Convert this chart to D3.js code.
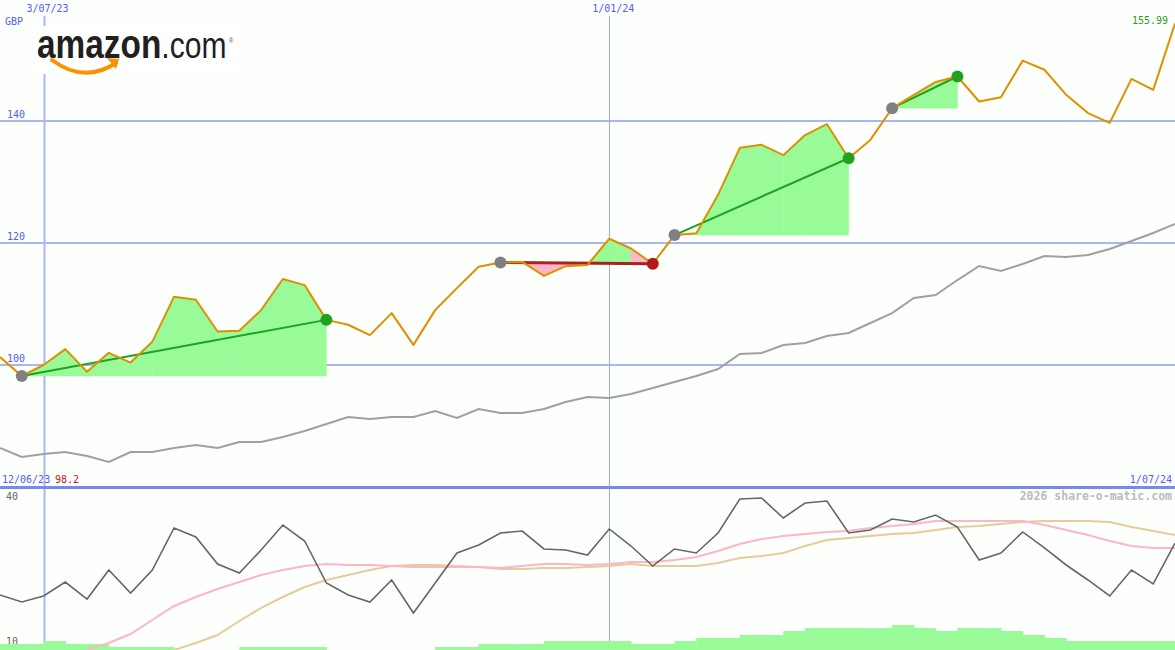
<!DOCTYPE html>
<html><head><meta charset="utf-8">
<script src="https://cdn.jsdelivr.net/npm/d3@7/dist/d3.min.js"></script>
<style>
html,body{margin:0;padding:0;background:#fdfffd;}
svg{display:block;}
text{font-family:"DejaVu Sans Mono",monospace;}
</style></head>
<body>
<svg id="c" width="1175" height="650"></svg>
<script>
// ---------- DATA ----------
const startDate = "2023-06-19";           // first weekly point
const weeks = 55;
const price = [101.3,98.2,100.0,102.6,98.9,102.0,100.4,103.8,111.2,110.7,
  105.5,105.6,109.0,114.1,113.1,107.4,106.6,104.9,108.5,103.3,
  109.0,112.6,116.1,116.8,116.9,114.6,116.2,116.4,120.7,119.1,
  116.6,121.3,121.6,127.9,135.6,136.1,134.4,137.7,139.5,133.9,
  136.9,142.1,144.3,146.4,147.3,143.2,143.9,149.9,148.4,144.3,
  141.3,139.7,146.9,145.1,155.99];
const longMA = [86.39,84.92,85.41,85.74,85.08,84.10,85.74,85.74,86.39,86.89,
  86.39,87.38,87.38,88.20,89.18,90.33,91.48,91.15,91.48,91.48,
  92.46,91.31,92.79,92.13,92.13,92.79,93.93,94.75,94.59,95.25,
  96.23,97.21,98.20,99.34,101.80,101.97,103.28,103.61,104.75,105.25,
  106.89,108.52,110.98,111.48,113.93,116.23,115.41,116.56,117.87,117.70,
  118.03,119.02,120.33,121.64,123.11];
const trends = [[1,15],[23,30],[31,39],[41,44]];
const osc = [20.31,19.0,20.13,22.75,19.56,25.0,20.69,25.0,32.88,31.19,
  26.13,24.44,28.75,33.44,30.44,22.56,20.31,19.0,23.13,16.94,
  22.56,28.19,29.69,31.94,32.31,28.94,28.75,27.81,32.69,29.5,
  25.75,28.94,28.19,31.94,38.31,38.5,34.75,37.56,37.94,31.94,
  32.5,34.56,34.0,35.31,33.06,26.88,28.19,32.13,29.13,25.94,
  23.13,20.13,25.0,22.38,30.06];
const oscFast = [null,null,null,null,10,11.31,13.0,15.63,18.25,19.94,
  21.44,22.75,24.06,25.0,25.75,26.13,25.94,25.94,25.75,25.56,
  25.56,25.56,25.56,25.38,25.75,26.13,26.13,25.94,26.13,26.5,
  26.5,26.88,27.44,28.56,29.88,30.81,31.38,31.75,32.13,32.31,
  32.88,33.25,33.63,34.19,34.19,34.19,34.19,34.19,33.44,32.5,
  31.56,30.44,29.5,29.13,29.13];
const oscSlow = [null,null,null,null,null,null,null,null,10,11.31,
  12.81,15.44,17.88,19.94,21.81,23.13,24.06,25.0,25.75,25.94,
  25.94,25.75,25.56,25.19,25.19,25.38,25.38,25.56,25.75,26.13,
  25.75,25.75,25.75,26.31,27.25,27.63,28.19,29.5,30.63,31.0,
  31.38,31.75,31.94,32.5,33.06,33.25,33.63,34.0,34.19,34.19,
  34.19,34.0,33.06,32.31,31.56];
const volume = [6,6,9,6,6,3,3,3,0,0,0,3,3,3,3,0,0,0,0,0,3,3,6,6,6,9,9,9,9,6,
  6,9,12,12,15,15,19,22,22,22,22,25,22,19,22,22,19,15,12,9,9,9,9,9,9];
const priceTicks = [100,120,140];
const dateLines = ["2023-07-03","2024-01-01"];
const dateLabels = ["3/07/23","1/01/24"];
const oscTicks = [40,10];

// ---------- SCALES ----------
const parse = d3.utcParse("%Y-%m-%d");
const d0 = parse(startDate);
const dates = d3.range(weeks).map(i => d3.utcDay.offset(d0, 7*i));
const x = d3.scaleUtc().domain([dates[0], dates[weeks-1]]).range([0, 1175]);
const y = d3.scaleLinear().domain([80, 159.84]).range([487, 0]);
const yo = d3.scaleLinear().domain([10, 40]).range([650, 490]);
const yv = d3.scaleLinear().domain([0, 50]).range([650, 600]);

const svg = d3.select("#c");
svg.append("rect").attr("width",1175).attr("height",650).attr("fill","#fdfffd");

const gridC = "#a9b6f6";
// horizontal price grid
svg.append("g").selectAll("line").data(priceTicks).join("line")
  .attr("x1",0).attr("x2",1175).attr("y1",d=>y(d)).attr("y2",d=>y(d))
  .attr("stroke",gridC).attr("stroke-width",2);
svg.append("g").selectAll("text").data(priceTicks).join("text")
  .attr("x",7).attr("y",d=>y(d)-3).text(d=>d)
  .attr("font-size",10).attr("fill","#5060f0");
// vertical date lines
svg.append("g").selectAll("line").data(dateLines).join("line")
  .attr("x1",d=>Math.round(x(parse(d)))+0.5).attr("x2",d=>Math.round(x(parse(d)))+0.5)
  .attr("y1",16).attr("y2",650)
  .attr("stroke",(d,i)=>i===0?gridC:"#9aa8f6").attr("stroke-width",(d,i)=>i===0?2:1);
svg.append("g").selectAll("text").data(dateLines).join("text")
  .attr("x",d=>x(parse(d))+4).attr("y",12).attr("text-anchor","middle")
  .text((d,i)=>dateLabels[i]).attr("font-size",10).attr("fill","#5060f0");
svg.append("text").attr("x",5).attr("y",25).text("GBP").attr("font-size",10).attr("fill","#5060f0");

// long moving average
svg.append("path").datum(longMA)
  .attr("d", d3.line().x((d,i)=>x(dates[i])).y(d=>y(d)))
  .attr("fill","none").attr("stroke","#a0a0a0").attr("stroke-width",2);

// trend fills
const fillG = svg.append("g");
trends.forEach(([s,e]) => {
  const base = price[s];
  for (let i=s;i<e;i++){
    const pts = [[x(dates[i]),y(price[i])],[x(dates[i+1]),y(price[i+1])],
                 [x(dates[i+1]),y(base)],[x(dates[i]),y(base)]];
    fillG.append("path").attr("d","M"+pts.map(p=>p.join(",")).join("L")+"Z")
      .attr("fill", price[i+1] >= base ? "#98fb98" : "#ffb6c8")
      .attr("stroke", price[i+1] >= base ? "#98fb98" : "#ffb6c8").attr("stroke-width",0.5);
  }
});
// trend lines
svg.append("g").selectAll("line").data(trends).join("line")
  .attr("x1",d=>x(dates[d[0]])).attr("y1",d=>y(price[d[0]]))
  .attr("x2",d=>x(dates[d[1]])).attr("y2",d=>y(price[d[1]]))
  .attr("stroke",d=>price[d[1]]>price[d[0]]?"#22a022":"#a82222")
  .attr("stroke-width",d=>price[d[1]]>price[d[0]]?2:3);

// price line
svg.append("path").datum(price)
  .attr("d", d3.line().x((d,i)=>x(dates[i])).y(d=>y(d)))
  .attr("fill","none").attr("stroke","#de9000").attr("stroke-width",2).attr("stroke-linejoin","round");

// dots
const dotG = svg.append("g");
trends.forEach(([s,e]) => {
  dotG.append("circle").attr("cx",x(dates[s])).attr("cy",y(price[s])).attr("r",6).attr("fill","#808080");
  dotG.append("circle").attr("cx",x(dates[e])).attr("cy",y(price[e])).attr("r",6)
    .attr("fill", price[e]>price[s] ? "#22a022" : "#b01c1c");
});

// last price label
svg.append("text").attr("x",1168).attr("y",24).attr("text-anchor","end")
  .text(price[weeks-1].toFixed(2)).attr("font-size",10).attr("fill","#22a022");

// ---------- LOGO ----------
const logo = svg.append("g");
logo.append("rect").attr("x",30).attr("y",26).attr("width",210).attr("height",48).attr("fill","#ffffff");
const lt = logo.append("text").attr("transform","translate(37,58) scale(0.835,1)")
  .style("font-family","'Liberation Sans',Arial,sans-serif").attr("fill","#221f1f");
lt.append("tspan").attr("font-weight","bold").attr("font-size",40).text("amazon");
lt.append("tspan").attr("font-size",36).text(".com");
lt.append("tspan").attr("font-size",7).attr("dy",-15).attr("dx",3).attr("fill","#555").text("®");
logo.append("path").attr("d","M52,60 Q84,84 116,63")
  .attr("fill","none").attr("stroke","#f79400").attr("stroke-width",4).attr("stroke-linecap","round");
logo.append("path").attr("d","M107,58 L119,59 L116,69 Z").attr("fill","#f79400");

// ---------- LOWER PANEL ----------
svg.append("line").attr("x1",0).attr("x2",1175).attr("y1",487.5).attr("y2",487.5)
  .attr("stroke","#7888ee").attr("stroke-width",3);
svg.append("text").attr("x",2).attr("y",483).text("12/06/23").attr("font-size",10).attr("fill","#5060f0");
svg.append("text").attr("x",55).attr("y",483).text(price[1].toFixed(1)).attr("font-size",10).attr("fill","#b01c1c");
svg.append("text").attr("x",1172).attr("y",483).attr("text-anchor","end")
  .text(d3.utcFormat("%-d/%m/%y")(dates[weeks-1])).attr("font-size",10).attr("fill","#5060f0");
svg.append("text").attr("x",1172).attr("y",500).attr("text-anchor","end")
  .text("2026 share-o-matic.com").attr("font-size",11.5).attr("font-weight","bold").attr("fill","#bbbbbb");
svg.append("g").selectAll("text").data(oscTicks).join("text")
  .attr("x",6).attr("y",(d,i)=>i===0?500:645).text(d=>d).attr("font-size",10).attr("fill","#666");

const clip = svg.append("clipPath").attr("id","lowclip");
clip.append("rect").attr("x",0).attr("y",489).attr("width",1175).attr("height",161);
const low = svg.append("g").attr("clip-path","url(#lowclip)");

// volume
const bw = x(dates[1]) - x(dates[0]);
low.append("g").selectAll("rect").data(volume).join("rect")
  .attr("x",(d,i)=>x(dates[i])).attr("width",bw+0.5)
  .attr("y",d=>yv(d)).attr("height",d=>650-yv(d)).attr("fill","#98fb98");

const lineO = d3.line().defined(d=>d!==null).x((d,i)=>x(dates[i])).y(d=>yo(d));
low.append("path").datum(oscSlow).attr("d",lineO).attr("fill","none").attr("stroke","#e4cc9c").attr("stroke-width",2);
low.append("path").datum(oscFast).attr("d",lineO).attr("fill","none").attr("stroke","#ffb4c8").attr("stroke-width",2);
low.append("path").datum(osc).attr("d",lineO).attr("fill","none").attr("stroke","#666666").attr("stroke-width",1.6);
</script>
</body></html>
